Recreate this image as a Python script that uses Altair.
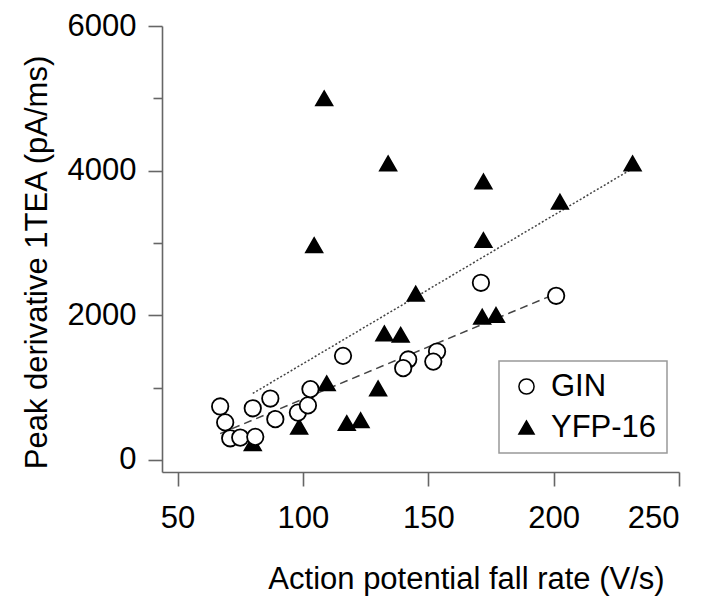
import altair as alt
import pandas as pd

# ---- data ----
groups = ["GIN", "YFP-16"]

gin_rate = [67, 69, 71, 75, 81, 80, 87, 89, 98, 102, 103, 116, 142, 140, 153.5, 152, 171, 201]
gin_peak = [740, 520, 300, 310, 320, 715, 850, 565, 655, 755, 980, 1440, 1390, 1270, 1500, 1360, 2450, 2270]

yfp_rate = [108.5, 134, 172, 231.5, 202.5, 104.5, 172, 145, 171.5, 177, 132.5, 139, 109.5, 130, 117.5, 123, 98.5, 80]
yfp_peak = [5000, 4100, 3850, 4100, 3570, 2970, 3040, 2300, 1980, 2005, 1750, 1730, 1060, 990, 510, 550, 460, 230]

# fitted lines (end points)
gin_fit_rate = [67, 201]
gin_fit_peak = [365, 2300]
yfp_fit_rate = [80, 232]
yfp_fit_peak = [920, 4040]

x_ticks = [50, 100, 150, 200, 250]
y_ticks = [0, 1000, 2000, 3000, 4000, 5000, 6000]

FONT = "Liberation Sans"

pts = pd.DataFrame(
    {"rate": yfp_rate + gin_rate,
     "peak": yfp_peak + gin_peak,
     "group": ["YFP-16"] * len(yfp_rate) + ["GIN"] * len(gin_rate)}
)
gin_fit = pd.DataFrame({"rate": gin_fit_rate, "peak": gin_fit_peak})
yfp_fit = pd.DataFrame({"rate": yfp_fit_rate, "peak": yfp_fit_peak})

xscale = alt.Scale(domain=[43.8, 250], nice=False, zero=False)
yscale = alt.Scale(domain=[-166, 6000], nice=False, zero=False)

xaxis = alt.Axis(
    values=x_ticks, format="d", title="Action potential fall rate (V/s)",
    tickSize=14, labelPadding=17, grid=False,
    titleX=304, titleY=116, titleBaseline="alphabetic", titleAnchor="middle",
)
yaxis = alt.Axis(
    values=y_ticks, format="d", title="Peak derivative 1TEA (pA/ms)",
    labelExpr="datum.value % 2000 === 0 ? datum.label : ''",
    tickSize={"condition": {"test": "datum.value % 2000 === 0", "value": 14}, "value": 9},
    labelPadding=12, grid=False,
    titleX=-116, titleY=236, titleBaseline="alphabetic", titleAngle=-90,
)

def make_legend():
    return alt.Legend(
        orient="none", legendX=337, legendY=335, title=None, direction="vertical",
        strokeColor="#999", padding=10, fillColor="white",
        labelFont=FONT, labelFontSize=31, labelColor="black",
        rowPadding=9, symbolOffset=2, labelOffset=9, symbolSize=230,
        symbolStrokeWidth=1.5, symbolStrokeColor="black",
    )

gin_line = alt.Chart(gin_fit).mark_line(strokeWidth=1.5, color="#444", strokeDash=[8, 5]).encode(
    x=alt.X("rate:Q", scale=xscale, axis=xaxis),
    y=alt.Y("peak:Q", scale=yscale, axis=yaxis),
)
yfp_line = alt.Chart(yfp_fit).mark_line(strokeWidth=1.5, color="#444", strokeDash=[2, 2]).encode(
    x=alt.X("rate:Q", scale=xscale, axis=xaxis),
    y=alt.Y("peak:Q", scale=yscale, axis=yaxis),
)

points = alt.Chart(pts).mark_point(filled=True, strokeWidth=1.8, opacity=1, size=270).encode(
    x=alt.X("rate:Q", scale=xscale, axis=xaxis),
    y=alt.Y("peak:Q", scale=yscale, axis=yaxis),
    shape=alt.Shape("group:N", scale=alt.Scale(domain=groups, range=["circle", "triangle-up"]), legend=make_legend()),
    fill=alt.Fill("group:N", scale=alt.Scale(domain=groups, range=["white", "black"]), legend=make_legend()),
    stroke=alt.Stroke("group:N", scale=alt.Scale(domain=groups, range=["black", "black"]), legend=make_legend()),
)

chart = (
    alt.layer(gin_line, yfp_line, points)
    .properties(
        width=517, height=446,
        padding={"left": 20, "top": 10, "right": 5, "bottom": 5},
        background="white",
    )
    .configure_view(stroke=None)
    .configure_axis(
        domainColor="#666", domainWidth=1.6, tickColor="#666", tickWidth=1.6,
        labelFont=FONT, labelFontSize=31, labelColor="black",
        titleFont=FONT, titleFontSize=31, titleColor="black", titleFontWeight="normal",
    )
    .configure_legend(strokeWidth=1.5)
)

chart.save("out.html", embed_options={"renderer": "svg", "actions": False})
